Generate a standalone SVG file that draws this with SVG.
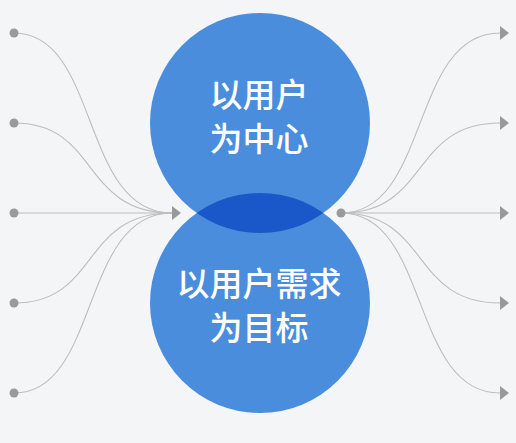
<svg xmlns="http://www.w3.org/2000/svg" width="516" height="443" viewBox="0 0 516 443">
<style>
.bg{fill:#f4f5f7}
.circ{fill:#4a8ddd}
.lens{fill:#1a58c9}
.line{fill:none;stroke:#bdbdbd;stroke-width:1.1}
.dot{fill:#9a9a9a}
.arr{fill:#999999}
.t{font-family:"Noto Sans CJK SC","Noto Sans",sans-serif;font-size:33px;font-weight:500;fill:#ffffff;text-anchor:middle}
</style>
<defs>
<marker id="ah" viewBox="0 0 9 14" refX="0" refY="7" markerWidth="9" markerHeight="14" markerUnits="userSpaceOnUse" orient="auto">
<polygon points="0,0 9,7 0,14" class="arr"/>
</marker>
<clipPath id="clipTop"><circle cx="260" cy="123" r="110"/></clipPath>
</defs>
<rect class="bg" width="516" height="443"/>
<g id="connectors">
<path class="line" d="M14,33 C100,33 80,213 172,213"/>
<path class="line" d="M14,123 C100,123 80,213 172,213"/>
<path class="line" d="M14,213 L172,213" marker-end="url(#ah)"/>
<path class="line" d="M14,303 C100,303 80,213 172,213"/>
<path class="line" d="M14,393 C100,393 80,213 172,213"/>
<path class="line" d="M341,213 C430,213 410,33 500,33" marker-end="url(#ah)"/>
<path class="line" d="M341,213 C430,213 410,123 500,123" marker-end="url(#ah)"/>
<path class="line" d="M341,213 L500,213" marker-end="url(#ah)"/>
<path class="line" d="M341,213 C430,213 410,303 500,303" marker-end="url(#ah)"/>
<path class="line" d="M341,213 C430,213 410,393 500,393" marker-end="url(#ah)"/>
</g>
<g id="sources">
<circle class="dot" cx="14" cy="33" r="4.5"/>
<circle class="dot" cx="14" cy="123" r="4.5"/>
<circle class="dot" cx="14" cy="213" r="4.5"/>
<circle class="dot" cx="14" cy="303" r="4.5"/>
<circle class="dot" cx="14" cy="393" r="4.5"/>
<circle class="dot" cx="341" cy="213" r="4.5"/>
</g>
<g id="node-top">
<circle class="circ" cx="260" cy="123" r="110"/>
</g>
<g id="node-bottom">
<circle class="circ" cx="260" cy="303" r="110"/>
</g>
<g id="overlap">
<circle class="lens" cx="260" cy="303" r="110" clip-path="url(#clipTop)"/>
</g>
<g id="label-top">
<text class="t" x="259" y="107">以用户</text>
<text class="t" x="259" y="151">为中心</text>
</g>
<g id="label-bottom">
<text class="t" x="259" y="296">以用户需求</text>
<text class="t" x="259" y="340">为目标</text>
</g>
</svg>
